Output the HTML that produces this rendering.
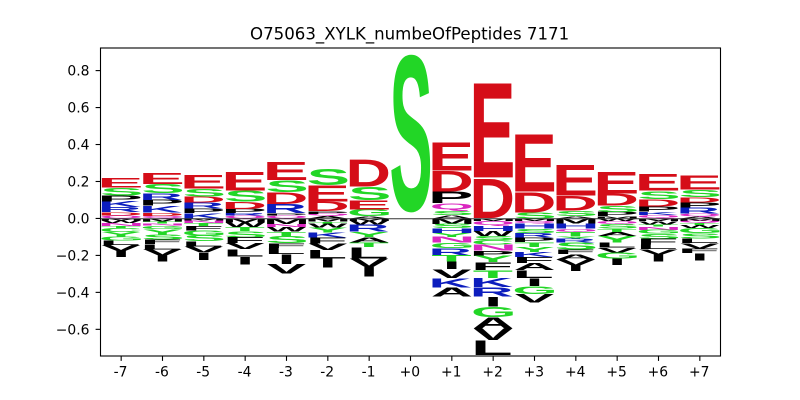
<!DOCTYPE html>
<html>
<head>
<meta charset="utf-8">
<style>
html,body{margin:0;padding:0;background:#fff;}
svg{display:block;}
text{font-family:"DejaVu Sans","Liberation Sans",sans-serif;fill:#000;}
.tick{font-size:13.89px;}
.glyph{font-family:"Liberation Sans",sans-serif;font-weight:bold;font-size:100px;}
</style>
</head>
<body>
<svg id="chart" width="800" height="400" viewBox="0 0 800 400" xmlns="http://www.w3.org/2000/svg">
  <rect x="0" y="0" width="800" height="400" fill="#fff"/>
  <text x="409.6" y="39.5" text-anchor="middle" style="font-size:16.6px">O75063_XYLK_numbeOfPeptides 7171</text>
  <g id="letters"></g>
  <g id="axes"></g>
</svg>
<script>
const positions = [-7,-6,-5,-4,-3,-2,-1,0,1,2,3,4,5,6,7];
const xTickLabels = ["-7","-6","-5","-4","-3","-2","-1","+0","+1","+2","+3","+4","+5","+6","+7"];
const yTicks = [0.8,0.6,0.4,0.2,0,-0.2,-0.4,-0.6];
const yTickLabels = ["0.8","0.6","0.4","0.2","0.0","\u22120.2","\u22120.4","\u22120.6"];

// Stacks run outward from the zero line. A space is an empty slot.
const upLetters = ["QDRKPSE","QDKPRSE","KPRDSE","QRPDSE","QPRDSE","AQPDES","AGESD"," S","ASQPDE","DE","SDE","ASDE","MPSDE","QKPDSE","AQRPDSE"];
const upValues = [
  [.016,.018,.027,.031,.031,.045,.052],
  [.014,.018,.036,.032,.036,.050,.061],
  [.029,.025,.032,.031,.043,.075],
  [.016,.012,.023,.038,.061,.101],
  [.016,.012,.050,.063,.066,.097],
  [.014,.011,.014,.052,.088,.092],
  [.011,.038,.049,.074,.147],
  [.024,.873],
  [.018,.020,.043,.065,.113,.156],
  [.217,.520],
  [.032,.111,.315],
  [.012,.029,.081,.168],
  [.012,.023,.034,.066,.119],
  [.018,.018,.029,.039,.045,.090],
  [.009,.018,.031,.029,.029,.039,.079]
];
const downLetters = ["MWNTCYGLVI","MTNGYSFLVI","MNTFGSLVI","MWTSFVLI","MNWTSFLIV","MTWYKFVLI","MWRYATLVI","","MSHYNGRTIVKA","MQHWSCNPYFTKRIGAVL","MQHSRPTYKFALIGV","MHQTYRSFAVI","WQSTAYLVGI","MWTNGSFLVI","MQTWGSLVFI"];
const downValues = [
  [.012,.012,.016,.014,.020,.025,.022,.023,.032,.034],
  [.016,.012,.011,.018,.029,.029,.023,.029,.034,.032],
  [.012,.014,.016,.023,.027,.032,.029,.032,.040],
  [.022,.025,.022,.034,.031,.032,.040,.043],
  [.029,.018,.025,.022,.041,.025,.032,.054,.052],
  [.018,.012,.020,.027,.027,.031,.036,.045,.050],
  [.014,.020,.038,.029,.029,.025,.061,.047,.052],
  [],
  [.029,.024,.025,.022,.031,.029,.040,.034,.041,.047,.051,.049],
  [.015,.027,.027,.027,.022,.024,.032,.029,.034,.042,.043,.050,.050,.054,.059,.062,.062,.081],
  [.015,.012,.029,.023,.025,.025,.025,.029,.027,.031,.039,.043,.042,.045,.045],
  [.027,.027,.020,.025,.012,.020,.038,.025,.029,.031,.031],
  [.014,.016,.025,.018,.022,.036,.027,.029,.031,.034],
  [.014,.018,.012,.018,.021,.029,.031,.023,.029,.038],
  [.014,.012,.009,.018,.027,.029,.025,.029,.025,.040]
];

const colorGroups = {
  "#d50d18": "DE",
  "#22d626": "GSTYC",
  "#0c1dbe": "KRH",
  "#da27c0": "NQ",
  "#000000": "AVLIPFMW"
};

const plot = {left:100.5, right:720.5, top:48, bottom:356};
const xDomain = [-7.5, 7.5];
const yDomain = [-0.7443, 0.9223];
const NS = "http://www.w3.org/2000/svg";

function xScale(v){
  return plot.left + (v - xDomain[0]) / (xDomain[1] - xDomain[0]) * (plot.right - plot.left);
}
function yScale(v){
  return plot.bottom - (v - yDomain[0]) / (yDomain[1] - yDomain[0]) * (plot.bottom - plot.top);
}
function letterColor(ch){
  for (const c in colorGroups) { if (colorGroups[c].indexOf(ch) >= 0) return c; }
  return "#000000";
}
function inkWidth(ch){
  if (ch === "I") return 10.5;
  if (ch === "L") return 36;
  if (ch === "F") return 36;
  return 39.5;
}

const measureCtx = document.createElement("canvas").getContext("2d");
measureCtx.font = 'bold 100px "Liberation Sans", sans-serif';
const INK_FILL = 0.98;
const lettersLayer = document.getElementById("letters");
const axesLayer = document.getElementById("axes");

function drawLetter(ch, pos, from, to){
  const m = measureCtx.measureText(ch);
  const asc = m.actualBoundingBoxAscent, desc = m.actualBoundingBoxDescent;
  const inkL = -m.actualBoundingBoxLeft, inkR = m.actualBoundingBoxRight;
  const yA = yScale(Math.max(from, to)), yB = yScale(Math.min(from, to));
  const slot = yB - yA;
  const inkH = slot * INK_FILL;
  const sy = inkH / (asc + desc);
  const sx = inkWidth(ch) / (inkR - inkL);
  const inkBottom = yB - (slot - inkH) / 2;
  const tx = xScale(pos) - sx * (inkL + inkR) / 2;
  const ty = inkBottom - desc * sy;
  const t = document.createElementNS(NS, "text");
  t.setAttribute("class", "glyph");
  t.setAttribute("transform", "translate(" + tx.toFixed(3) + " " + ty.toFixed(3) + ") scale(" + sx.toFixed(5) + " " + sy.toFixed(5) + ")");
  t.setAttribute("style", "fill:" + letterColor(ch));
  t.textContent = ch;
  
  
  lettersLayer.appendChild(t);
}

positions.forEach(function(pos, i){
  let top = 0;
  upValues[i].forEach(function(v, j){
    const ch = upLetters[i][j];
    if (ch !== " ") drawLetter(ch, pos, top, top + v);
    top += v;
  });
  let bottom = 0;
  downValues[i].forEach(function(v, j){
    drawLetter(downLetters[i][j], pos, bottom, bottom - v);
    bottom -= v;
  });
});

function makeLine(x1, y1, x2, y2, stroke, w){
  const l = document.createElementNS(NS, "line");
  l.setAttribute("x1", x1);
  l.setAttribute("y1", y1);
  l.setAttribute("x2", x2);
  l.setAttribute("y2", y2);
  l.setAttribute("stroke", stroke);
  l.setAttribute("stroke-width", w);
  axesLayer.appendChild(l);
  return l;
}
function makeLabel(x, y, anchor, str){
  const t = document.createElementNS(NS, "text");
  t.setAttribute("x", x);
  t.setAttribute("y", y);
  t.setAttribute("text-anchor", anchor);
  t.setAttribute("class", "tick");
  t.textContent = str;
  axesLayer.appendChild(t);
  return t;
}

const zeroLine = makeLine(plot.left, yScale(0) + 0.3, plot.right, yScale(0) + 0.3, "#333333", 1);



const frame = document.createElementNS(NS, "rect");
frame.setAttribute("x", plot.left);
frame.setAttribute("y", plot.top);
frame.setAttribute("width", plot.right - plot.left);
frame.setAttribute("height", plot.bottom - plot.top);
frame.setAttribute("fill", "none");
frame.setAttribute("stroke", "#000");
frame.setAttribute("stroke-width", "1.1");


axesLayer.appendChild(frame);

positions.forEach(function(pos, i){
  const x = xScale(pos);
  const tick = makeLine(x, plot.bottom, x, plot.bottom + 4.9, "#000", 1.1);
  
  
  const label = makeLabel(x - 0.6, 376.5, "middle", xTickLabels[i]);
  
  
});
yTicks.forEach(function(v, i){
  const y = yScale(v);
  const tick = makeLine(plot.left - 4.9, y, plot.left, y, "#000", 1.1);
  
  
  const label = makeLabel(plot.left - 11, y + 5.1, "end", yTickLabels[i]);
  
  
});
</script>
</body>
</html>
